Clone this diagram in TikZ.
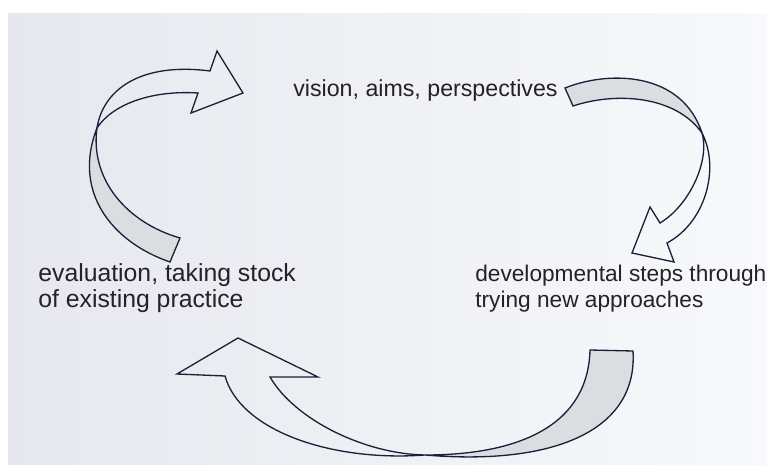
\documentclass[tikz,border=0pt]{standalone}
\usepackage{fontspec}
\setmainfont{Liberation Sans}
\definecolor{ink}{RGB}{34,34,40}
\definecolor{rim}{RGB}{30,30,58}
\definecolor{pagegray}{RGB}{230,232,238}
\definecolor{pagewhite}{RGB}{248,249,251}
\definecolor{backside}{RGB}{220,221,225}

\begin{document}
\begin{tikzpicture}[x=0.02cm, y=-0.02cm,
  stage/.style={anchor=base west, align=left, inner sep=0pt, text=ink},
  band/.style={draw=rim, line width=0.75pt, line join=miter},
  back/.style={band, fill=backside}]
\useasboundingbox (0,0) rectangle (767,465);
\fill[white] (0,0) rectangle (767,465);
\shade[left color=pagegray, right color=pagewhite] (8,14) rectangle (767,465);

\node (vision) at (293,97) [stage, font=\fontsize{13.2}{14.8}\selectfont] {vision, aims, perspectives};
\node (evaluate) at (38,308) [stage, font=\fontsize{14.1}{14.8}\selectfont] {evaluation, taking stock\\of existing practice};
\node (develop) at (475,308) [stage, font=\fontsize{12.9}{14.8}\selectfont] {developmental steps through\\trying new approaches};

\draw[back] (170,262) .. controls (112,242) and (72,192) .. (97,128)
  .. controls (90,178) and (125,222) .. (180,238) -- cycle;
\draw[band] (97,128) .. controls (103,90) and (140,62) .. (210,71) -- (217,51) -- (243,93)
  -- (191,113) -- (198,93) .. controls (150,90) and (112,105) .. (97,128) -- cycle;

\draw[back] (565,88) .. controls (610,70) and (682,72) .. (702,133)
  .. controls (675,95) and (615,92) .. (573,106) -- cycle;
\draw[band] (702,133) .. controls (720,168) and (706,222) .. (667,243) -- (674,262) -- (632,253)
  -- (650,207) -- (660,223) .. controls (690,205) and (710,160) .. (702,133) -- cycle;

\draw[back] (590,350) -- (633,351) .. controls (638,430) and (555,466) .. (425,455)
  .. controls (520,455) and (588,425) .. (590,350) -- cycle;
\draw[band] (425,455) .. controls (365,454) and (295,420) .. (270,377) -- (318,377) -- (238,338)
  -- (177,374) -- (225,376) .. controls (240,430) and (330,462) .. (425,455) -- cycle;
\end{tikzpicture}
\end{document}
